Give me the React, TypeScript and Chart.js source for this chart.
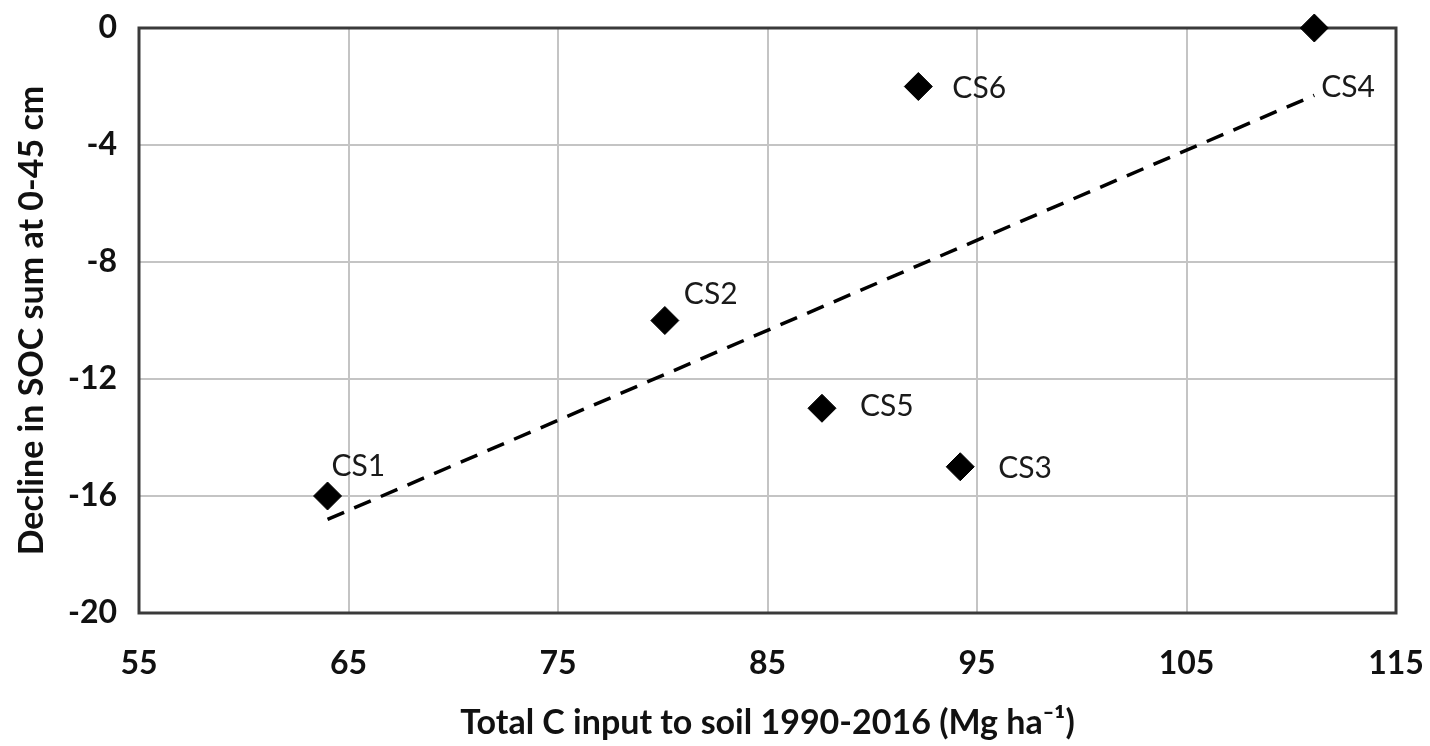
import React, { useEffect, useRef } from "react";
import { Chart, registerables } from "chart.js";

Chart.register(...registerables);

// ---- data ----
const siteNames = ["CS1", "CS2", "CS5", "CS3", "CS6", "CS4"];
const cInput = [64.0, 80.1, 87.6, 94.2, 92.2, 111.1];
const socDecline = [-16, -10, -13, -15, -2, 0];
const trendX = [64.0, 111.1];
const trendY = [-16.8, -2.3];
const xTicks = [55, 65, 75, 85, 95, 105, 115];
const yTicks = [-20, -16, -12, -8, -4, 0];
const xTitle = "Total C input to soil 1990-2016 (Mg ha\u207B\u00B9)";
const yTitle = "Decline in SOC sum at 0-45 cm";

// ---- label placement (style) ----
const labelOffsets: Record<string, [number, number]> = {
  CS1: [4, -30],
  CS2: [19, -26],
  CS5: [38, -2],
  CS3: [38, 2],
  CS6: [34, 2],
  CS4: [7, 59],
};

const FONT = "Lato, 'Open Sans', sans-serif";

const borderPlugin = {
  id: "plotBorder",
  beforeDatasetsDraw(chart: any) {
    const { ctx, chartArea } = chart;
    ctx.save();
    ctx.strokeStyle = "#3a3a3a";
    ctx.lineWidth = 3;
    ctx.strokeRect(chartArea.left, chartArea.top, chartArea.right - chartArea.left, chartArea.bottom - chartArea.top);
    ctx.restore();
  },
};

const labelPlugin = {
  id: "pointLabels",
  afterDatasetsDraw(chart: any) {
    const { ctx } = chart;
    const meta = chart.getDatasetMeta(0);
    ctx.save();
    ctx.font = `400 30px ${FONT}`;
    ctx.fillStyle = "#1a1a1a";
    ctx.textAlign = "left";
    ctx.textBaseline = "middle";
    meta.data.forEach((el: any, i: number) => {
      const name = siteNames[i];
      const off = labelOffsets[name] || [20, 0];
      ctx.fillText(name, el.x + off[0], el.y + off[1]);
    });
    ctx.restore();
  },
};

export default function App() {
  const ref = useRef<HTMLCanvasElement | null>(null);

  useEffect(() => {
    if (!ref.current) return;
    const chart = new Chart(ref.current, {
      type: "scatter",
      data: {
        datasets: [
          {
            label: "Sites",
            data: cInput.map((x, i) => ({ x, y: socDecline[i] })),
            pointStyle: "rectRot",
            pointRadius: 14,
            pointHoverRadius: 14,
            backgroundColor: "#000",
            borderColor: "#000",
            borderWidth: 1,
            showLine: false,
            clip: false as any,
            order: 0,
          },
          {
            label: "Trend",
            data: trendX.map((x, i) => ({ x, y: trendY[i] })),
            showLine: true,
            borderColor: "#000",
            borderWidth: 3.5,
            borderDash: [18, 11],
            pointRadius: 0,
            fill: false,
            order: 1,
          },
        ],
      },
      options: {
        animation: false,
        responsive: true,
        maintainAspectRatio: false,
        layout: { padding: { left: 0, top: 28, right: 34, bottom: 0 } },
        plugins: {
          legend: { display: false },
          tooltip: { enabled: false },
        },
        scales: {
          x: {
            type: "linear",
            min: 55,
            max: 115,
            afterFit: (s: any) => {
              s.height = 133;
              s.paddingLeft = 0;
              s.paddingRight = 0;
            },
            afterBuildTicks: (s: any) => {
              s.ticks = xTicks.map((v) => ({ value: v }));
            },
            ticks: {
              padding: 31,
              color: "#111",
              font: { family: FONT, size: 32, weight: "bold" },
            },
            grid: { color: "#c4c4c4", lineWidth: 2, drawTicks: false },
            border: { display: false },
            title: {
              display: true,
              text: xTitle,
              color: "#111",
              font: { family: FONT, size: 34, weight: "bold" },
              padding: { top: 0, bottom: 3 },
            },
          },
          y: {
            type: "linear",
            min: -20,
            max: 0,
            afterFit: (s: any) => {
              s.width = 139;
              s.paddingTop = 0;
              s.paddingBottom = 0;
            },
            afterBuildTicks: (s: any) => {
              s.ticks = yTicks.map((v) => ({ value: v }));
            },
            ticks: {
              padding: 22,
              color: "#111",
              font: { family: FONT, size: 32, weight: "bold" },
            },
            grid: { color: "#c4c4c4", lineWidth: 2, drawTicks: false },
            border: { display: false },
            title: {
              display: true,
              text: yTitle,
              color: "#111",
              font: { family: FONT, size: 34, weight: "bold" },
              padding: { top: 12, bottom: 0 },
            },
          },
        },
      },
      plugins: [borderPlugin, labelPlugin],
    });
    return () => chart.destroy();
  }, []);

  return (
    <div style={{ position: "fixed", left: 0, top: 0, width: 1430, height: 746, background: "#fff" }}>
      <canvas ref={ref} />
    </div>
  );
}
